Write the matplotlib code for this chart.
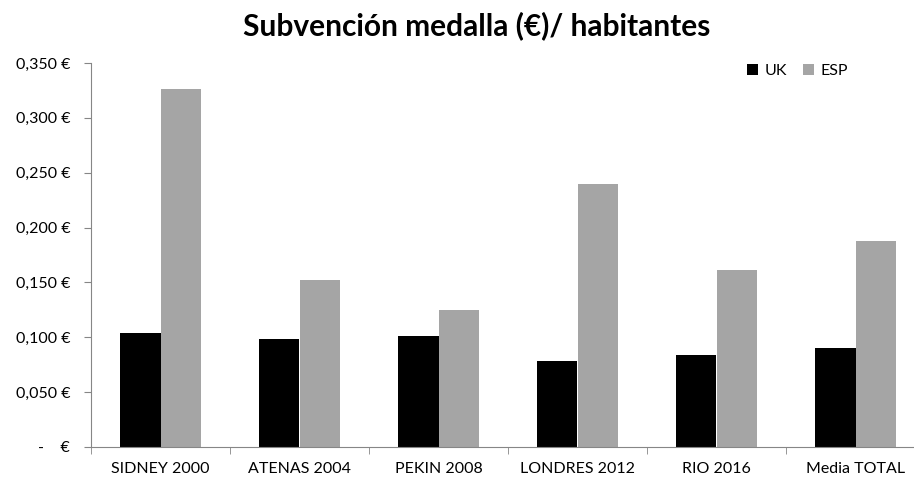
import matplotlib.pyplot as plt
import numpy as np

plt.rcParams['font.family'] = ['Lato', 'DejaVu Sans']

juegos = ['SIDNEY 2000', 'ATENAS 2004', 'PEKIN 2008', 'LONDRES 2012', 'RIO 2016', 'Media TOTAL']
uk = [0.104, 0.098, 0.101, 0.078, 0.084, 0.090]
esp = [0.326, 0.152, 0.125, 0.240, 0.161, 0.188]

yticks = [0, 0.05, 0.10, 0.15, 0.20, 0.25, 0.30, 0.35]
ylabels = ['-    €', '0,050 €', '0,100 €', '0,150 €', '0,200 €', '0,250 €', '0,300 €', '0,350 €']

fig = plt.figure(figsize=(9.14, 4.8), dpi=100)
ax = fig.add_axes([91 / 914, 33 / 480, 834 / 914, 384 / 480])

x = np.arange(len(juegos))
w = 0.288
ax.bar(x - w / 2, uk, w, color='black', label='UK')
ax.bar(x + w / 2, esp, w, color='#a5a5a5', label='ESP')

ax.set_xlim(-0.5, len(juegos) - 0.5)
ax.set_ylim(0, 0.35)
ax.set_yticks(yticks)
ax.set_yticklabels(ylabels, fontsize=11.5)
ax.set_xticks(x)
ax.set_xticklabels(juegos, fontsize=11.5)
ax.set_xticks(np.arange(len(juegos) + 1) - 0.5, minor=True)
ax.tick_params(axis='x', which='major', length=0, pad=11)
ax.tick_params(axis='x', which='minor', length=5, color='#868686')
ax.tick_params(axis='y', length=5, color='#868686', pad=10)

for s in ['top', 'right']:
    ax.spines[s].set_visible(False)
for s in ['left', 'bottom']:
    ax.spines[s].set_color('#868686')

fig.text(0.521, 0.927, 'Subvención medalla (€)/ habitantes', ha='center',
         fontsize=21.5, fontweight='bold')

ax.legend(loc='upper right', bbox_to_anchor=(0.925, 1.035), ncol=2, frameon=False,
          fontsize=11.5, handlelength=0.7, handleheight=0.7, columnspacing=1.0,
          handletextpad=0.4)

fig.savefig('out.png', dpi=100)
